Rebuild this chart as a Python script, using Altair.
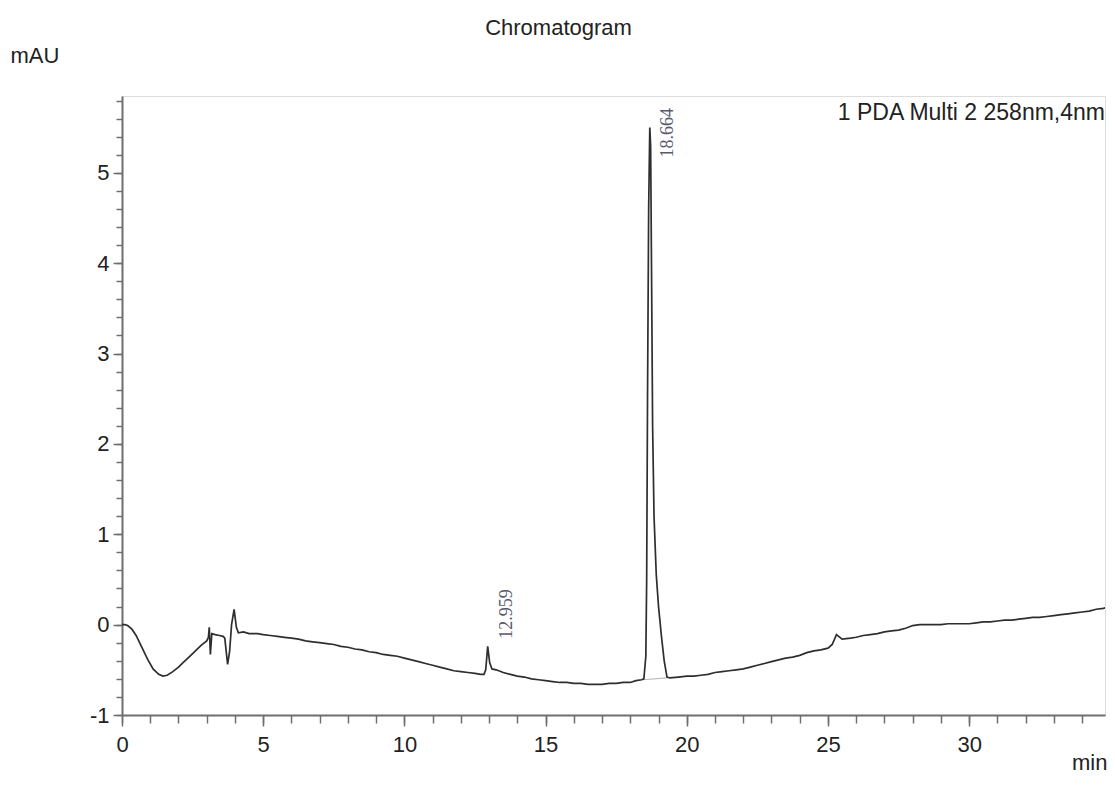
import altair as alt
import pandas as pd

# Chromatogram trace (time in min, signal in mAU)
time = [0.00, 0.10, 0.20, 0.35, 0.50, 0.70, 0.90, 1.10, 1.30, 1.45, 1.60, 1.80, 2.00, 2.20, 2.40,
        2.60, 2.80, 3.00, 3.06, 3.09, 3.13, 3.18, 3.30, 3.45, 3.58, 3.64, 3.74, 3.81, 3.88, 3.97,
        4.05, 4.12, 4.30, 4.50, 4.80, 5.00, 5.25, 5.50, 5.75, 6.00, 6.25, 6.50, 6.75, 7.00, 7.25,
        7.50, 7.75, 8.00, 8.25, 8.50, 8.75, 9.00, 9.25, 9.50, 9.75, 10.00, 10.25, 10.50, 10.75,
        11.00, 11.25, 11.50, 11.75, 12.00, 12.25, 12.50, 12.70, 12.82, 12.88, 12.95, 13.02, 13.10,
        13.25, 13.50, 13.75, 14.00, 14.25, 14.50, 14.75, 15.00, 15.25, 15.50, 15.75, 16.00, 16.25,
        16.50, 16.75, 17.00, 17.25, 17.50, 17.75, 18.00, 18.20, 18.40, 18.48, 18.55, 18.58, 18.61,
        18.65, 18.69, 18.72, 18.75, 18.79, 18.84, 18.92, 19.00, 19.10, 19.20, 19.30, 19.40, 19.70,
        20.00, 20.25, 20.50, 20.75, 21.00, 21.25, 21.50, 21.75, 22.00, 22.25, 22.50, 22.75, 23.00,
        23.25, 23.50, 23.75, 24.00, 24.25, 24.50, 24.75, 25.00, 25.15, 25.30, 25.50, 25.80, 26.00,
        26.25, 26.50, 26.75, 27.00, 27.25, 27.50, 27.75, 28.00, 28.25, 28.50, 28.75, 29.00, 29.25,
        29.50, 29.75, 30.00, 30.25, 30.50, 30.75, 31.00, 31.25, 31.50, 31.75, 32.00, 32.25, 32.50,
        32.75, 33.00, 33.25, 33.50, 33.75, 34.00, 34.25, 34.50, 34.75, 35.00]
signal = [0.00, 0.00, -0.01, -0.05, -0.12, -0.25, -0.38, -0.49, -0.55, -0.57, -0.56, -0.52, -0.47,
          -0.41, -0.35, -0.29, -0.23, -0.18, -0.14, -0.03, -0.33, -0.10, -0.11, -0.12, -0.13, -0.15,
          -0.44, -0.30, 0.00, 0.17, -0.03, -0.09, -0.08, -0.10, -0.10, -0.11, -0.12, -0.13, -0.14,
          -0.15, -0.16, -0.18, -0.19, -0.20, -0.21, -0.22, -0.24, -0.25, -0.27, -0.28, -0.30, -0.31,
          -0.33, -0.34, -0.35, -0.37, -0.39, -0.41, -0.43, -0.45, -0.47, -0.49, -0.51, -0.52, -0.53,
          -0.54, -0.55, -0.55, -0.50, -0.24, -0.42, -0.49, -0.50, -0.53, -0.55, -0.57, -0.58, -0.60,
          -0.61, -0.62, -0.63, -0.64, -0.64, -0.65, -0.65, -0.66, -0.66, -0.66, -0.65, -0.65, -0.64,
          -0.64, -0.62, -0.61, -0.60, -0.35, 0.50, 2.50, 4.60, 5.50, 5.30, 4.00, 2.20, 1.20, 0.55,
          0.20, -0.12, -0.40, -0.58, -0.59, -0.58, -0.57, -0.57, -0.56, -0.55, -0.53, -0.52, -0.51,
          -0.50, -0.49, -0.47, -0.45, -0.43, -0.41, -0.39, -0.37, -0.36, -0.34, -0.31, -0.29, -0.28,
          -0.26, -0.22, -0.11, -0.16, -0.15, -0.14, -0.12, -0.11, -0.10, -0.08, -0.07, -0.06, -0.04,
          -0.01, 0.00, 0.00, 0.00, 0.00, 0.01, 0.01, 0.01, 0.01, 0.02, 0.03, 0.03, 0.04, 0.05, 0.05,
          0.06, 0.07, 0.08, 0.08, 0.09, 0.10, 0.11, 0.12, 0.13, 0.14, 0.15, 0.17, 0.18, 0.20]

# Peak annotations
peak_times = [12.959, 18.664]
peak_labels = ["12.959", "18.664"]
peak_label_y = [-0.155, 5.17]

# Integration baseline under the main peak
base_t = [18.45, 19.30]
base_v = [-0.61, -0.59]

x_major = [0, 5, 10, 15, 20, 25, 30]
x_minor = list(range(0, 35))
y_major = [-1, 0, 1, 2, 3, 4, 5]
y_minor = [round(-1 + 0.2 * i, 1) for i in range(35)]

trace = pd.DataFrame({"t": time, "v": signal})
peaks = pd.DataFrame({"t": peak_times, "label": peak_labels, "ly": peak_label_y})
base = pd.DataFrame({"t": base_t, "v": base_v})

FONT = "Liberation Sans"
AXC = "#6e6e6e"
TXT = "#222222"

xs = alt.Scale(domain=[0, 34.81], nice=False, zero=False)
ys = alt.Scale(domain=[-1, 5.85], nice=False, zero=False)

x_axis_major = alt.Axis(values=x_major, orient="bottom", grid=False, tickSize=11, tickWidth=1.5,
                        tickColor=AXC, domainColor=AXC, domainWidth=2, labelFont=FONT,
                        labelFontSize=22, labelColor=TXT, labelPadding=8, labelFlush=False,
                        title="min", titleFont=FONT, titleFontSize=22, titleFontWeight="normal",
                        titleColor=TXT, titleX=985, titleY=54, titleAlign="right",
                        titleBaseline="alphabetic")
y_axis_major = alt.Axis(values=y_major, orient="left", grid=False, tickSize=9, tickWidth=1.5,
                        tickColor=AXC, domainColor=AXC, domainWidth=2, labelFont=FONT,
                        labelFontSize=22, labelColor=TXT, labelPadding=4, labelFlush=False,
                        labelExpr="datum.value < 0 ? '-' + abs(datum.value) : '' + datum.value",
                        title="mAU", titleFont=FONT, titleFontSize=22, titleFontWeight="normal",
                        titleColor=TXT, titleAngle=0, titleX=-112, titleY=-34, titleAlign="left",
                        titleBaseline="alphabetic")
x_axis_minor = alt.Axis(values=x_minor, orient="bottom", grid=False, tickSize=8, tickWidth=1.5,
                        tickColor=AXC, domain=False, labels=False, title=None)
y_axis_minor = alt.Axis(values=y_minor, orient="left", grid=False, tickSize=6, tickWidth=1.5,
                        tickColor=AXC, domain=False, labels=False, title=None)

line = alt.Chart(trace).mark_line(color="#2e2e2e", strokeWidth=1.7, clip=True).encode(
    x=alt.X("t:Q", scale=xs, axis=x_axis_major),
    y=alt.Y("v:Q", scale=ys, axis=y_axis_major),
)

baseline = alt.Chart(base).mark_line(color="#bbbbbb", strokeWidth=1.2).encode(
    x=alt.X("t:Q", scale=xs, axis=x_axis_minor),
    y=alt.Y("v:Q", scale=ys, axis=y_axis_minor),
)

labels = alt.Chart(peaks).mark_text(
    angle=270, align="left", baseline="middle", dy=19, font="Liberation Serif",
    fontSize=18, color="#5a5a6e"
).encode(
    x=alt.X("t:Q", scale=xs, axis=None),
    y=alt.Y("ly:Q", scale=ys, axis=None),
    text="label:N",
)

legend_text = alt.Chart(pd.DataFrame({"s": ["1 PDA Multi 2 258nm,4nm"]})).mark_text(
    align="right", baseline="alphabetic", font=FONT, fontSize=23, color=TXT
).encode(
    x=alt.value(983), y=alt.value(24), text="s:N"
)

chart = alt.layer(baseline, line, labels, legend_text).resolve_axis(
    x="independent", y="independent"
).properties(
    width=983, height=619,
    padding={"left": 114, "top": 88, "right": 2, "bottom": 60},
    autosize=alt.AutoSizeParams(type="none"),
    title=alt.TitleParams(text="Chromatogram", anchor="middle", dx=-55, offset=-13,
                          baseline="alphabetic", font=FONT, fontSize=22,
                          fontWeight="normal", color=TXT),
).configure_view(stroke="#8a8a8a", strokeWidth=2).configure(background="white")

chart.save("out.html", embed_options={"renderer": "svg", "actions": False})
